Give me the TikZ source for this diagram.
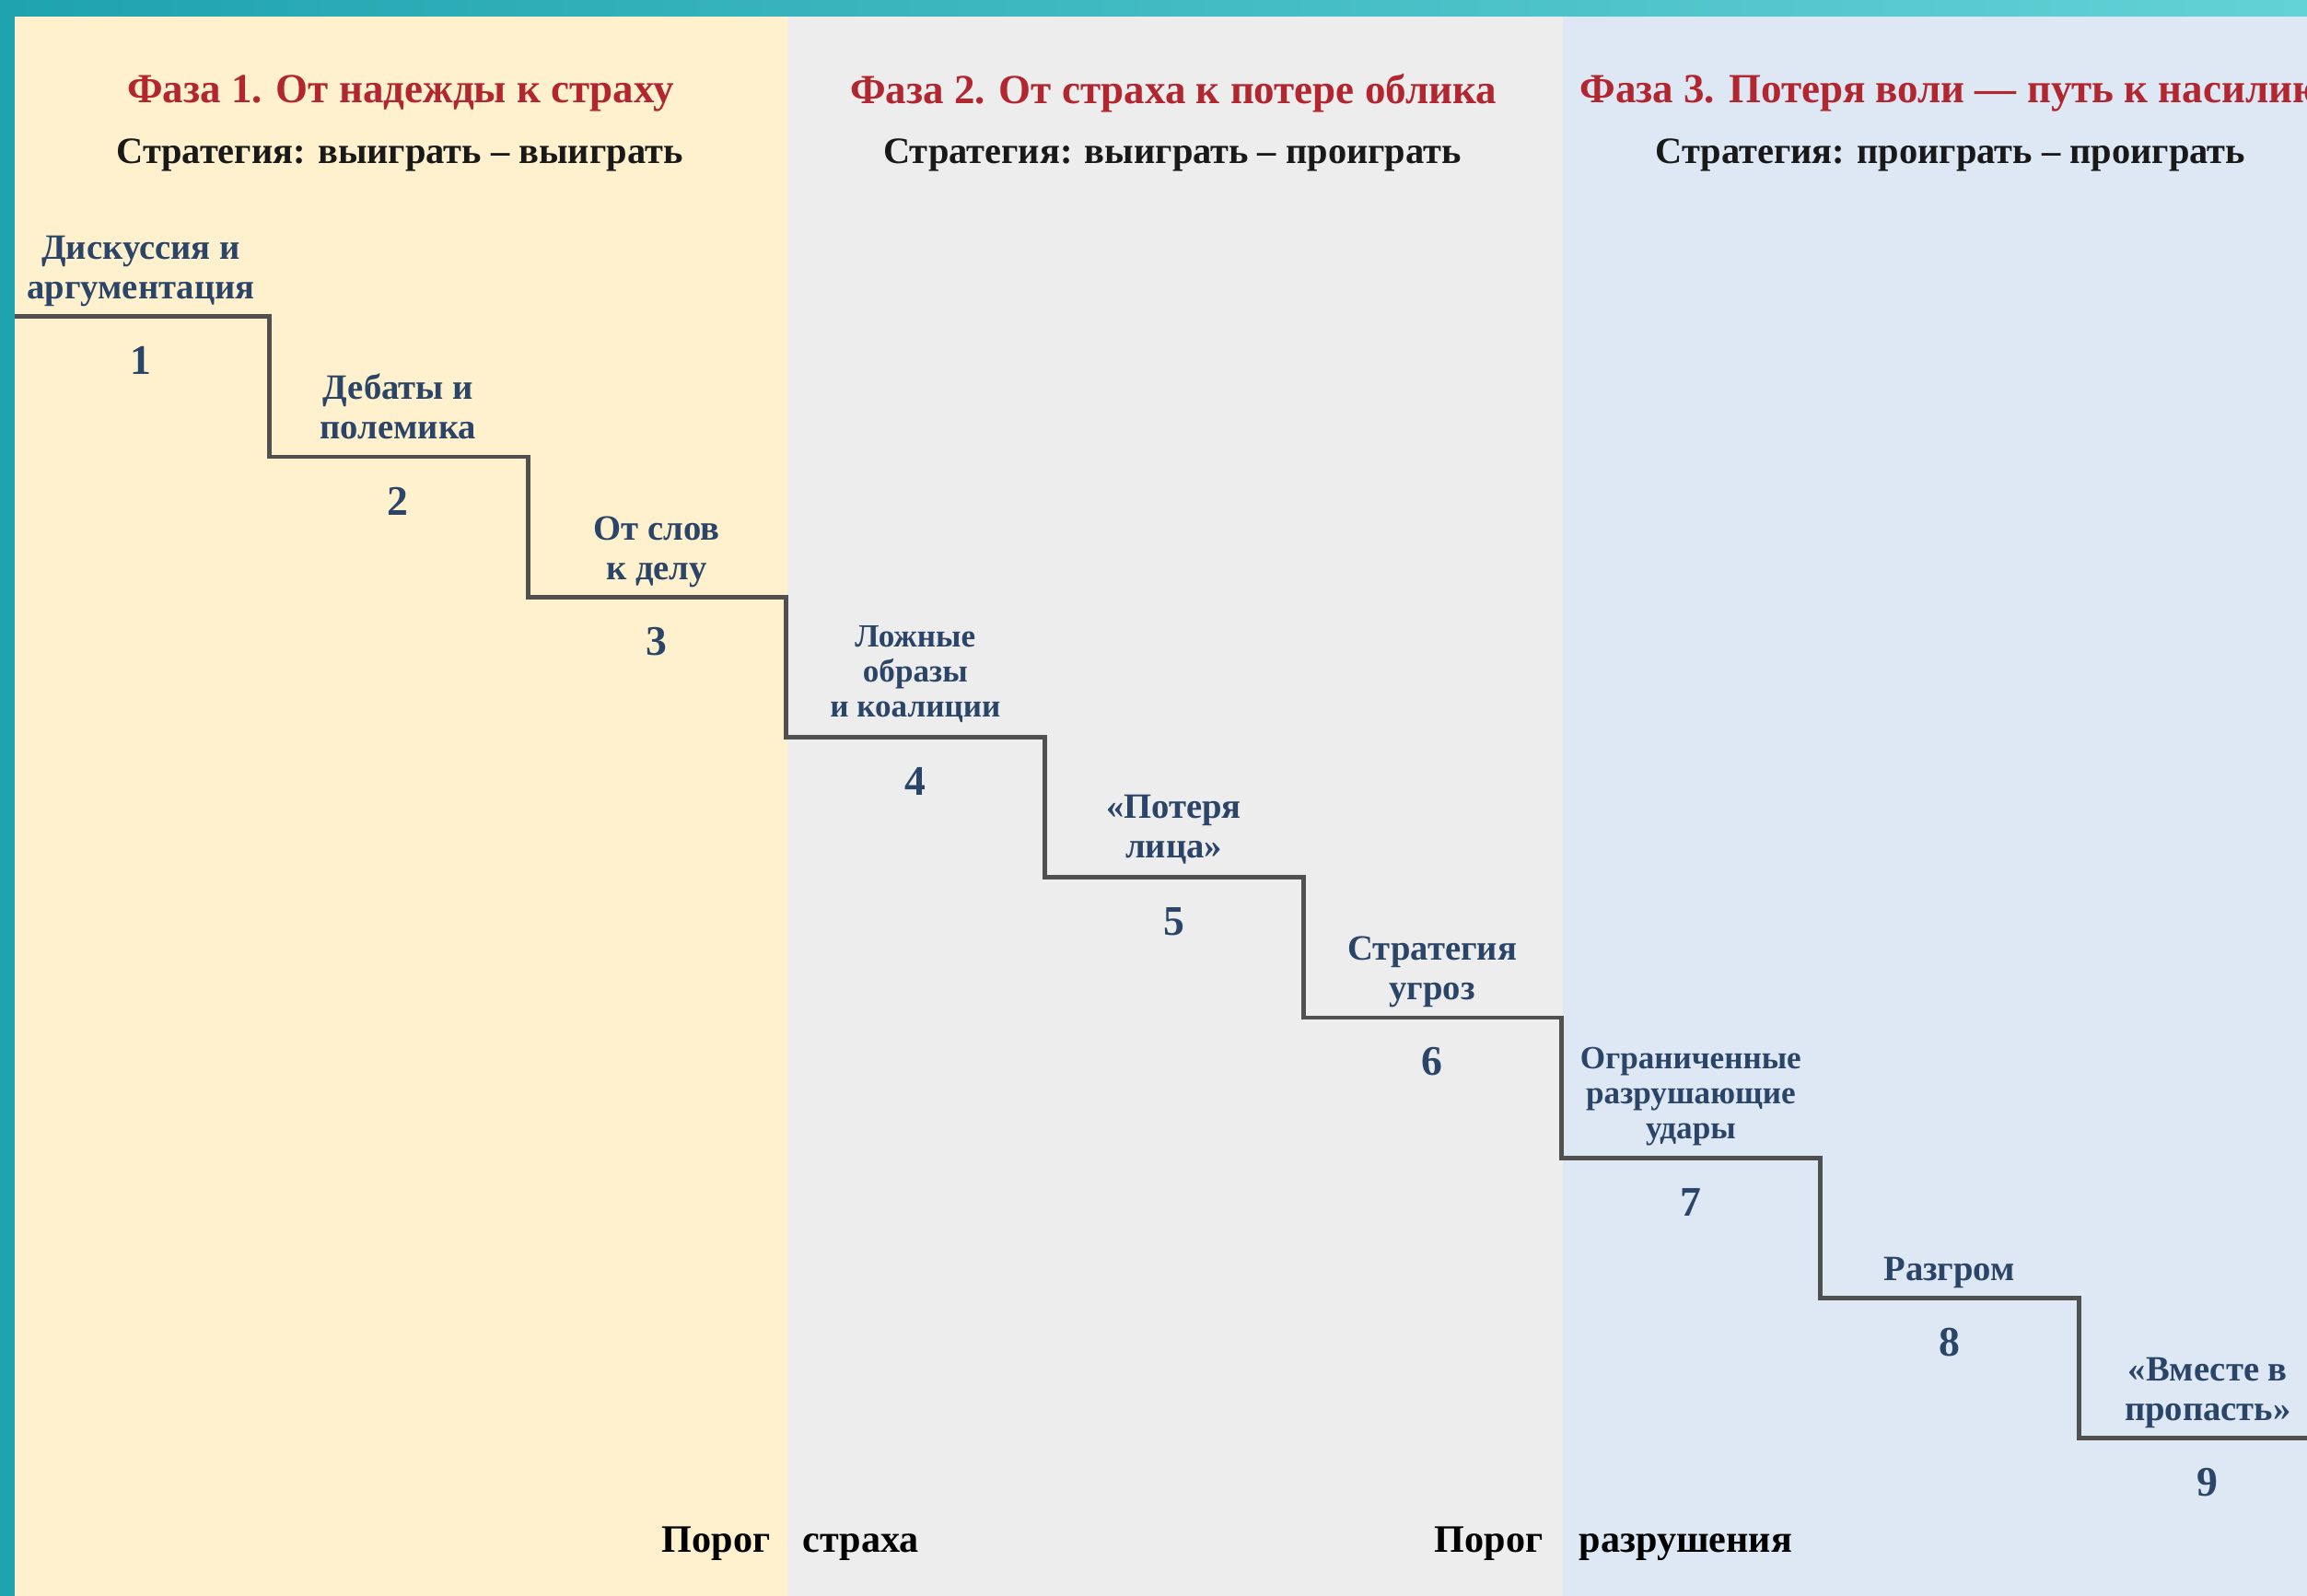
\documentclass[tikz,border=0pt]{standalone}
\usepackage{fontspec}
\setmainfont{Liberation Serif}
\usetikzlibrary{calc}
\usetikzlibrary{positioning}
\definecolor{seateal}{HTML}{1FA3AE}
\definecolor{seateallight}{HTML}{63D2D6}
\definecolor{phaseA}{HTML}{FFF1CE}
\definecolor{phaseB}{HTML}{EDEDED}
\definecolor{phaseC}{HTML}{DDE8F4}
\definecolor{titlered}{HTML}{B1262F}
\definecolor{stepblue}{HTML}{2B4568}
\definecolor{stairgray}{HTML}{505050}
\tikzstyle{phasetitle} = [text=titlered, font=\bfseries\fontsize{12.8}{15}\selectfont]
\tikzstyle{strategy} = [text=black!90, font=\bfseries\fontsize{11.5}{14}\selectfont]
\tikzstyle{steplabel} = [text=stepblue, anchor=south, align=center, inner sep=1pt, text depth=0.25em, font=\bfseries\fontsize{11}{12.3}\selectfont]
\tikzstyle{smalllabel} = [steplabel, font=\bfseries\fontsize{10}{10.8}\selectfont]
\tikzstyle{stepnum} = [text=stepblue, font=\bfseries\fontsize{13}{15}\selectfont]
\tikzstyle{threshold} = [text=black, inner sep=0pt, font=\bfseries\fontsize{12}{14}\selectfont]
\tikzstyle{stairline} = [draw=stairgray, line width=1.4pt]

\begin{document}
\begin{tikzpicture}
    \clip (0,0) rectangle (25.05,-17.33);
    % water backdrop and the three phase panels
    \fill[left color=seateal, right color=seateallight] (0,0) rectangle (25.05,-17.33);
    \fill[phaseA] (0.16,-0.18) rectangle (8.55,-17.33);
    \fill[phaseB] (8.55,-0.18) rectangle (16.97,-17.33);
    \fill[phaseC] (16.97,-0.18) rectangle (25.05,-17.33);

    \node[phasetitle] (ph1_title) at (4.35,-1.01) {Фаза 1. От надежды к страху};
    \node[strategy] (ph1_strat) at (4.34,-1.68) {Стратегия: выиграть – выиграть};
    \node[phasetitle] (ph2_title) at (12.74,-1.01) {Фаза 2. От страха к потере облика};
    \node[strategy] (ph2_strat) at (12.73,-1.68) {Стратегия: выиграть – проиграть};
    \node[phasetitle, anchor=west] (ph3_title) at (17.03,-1.01) {Фаза 3. Потеря воли — путь к насилию};
    \node[strategy] (ph3_strat) at (21.18,-1.68) {Стратегия: проиграть – проиграть};

    % corners of the staircase
    \coordinate (st1) at (0.16,-3.435);
    \coordinate (st2) at (2.924,-4.96);
    \coordinate (st3) at ($(st2)+(2.807,-1.5225)$);
    \coordinate (st4) at ($(st3)+(2.807,-1.5225)$);
    \coordinate (st5) at ($(st4)+(2.807,-1.5225)$);
    \coordinate (st6) at ($(st5)+(2.807,-1.5225)$);
    \coordinate (st7) at ($(st6)+(2.807,-1.5225)$);
    \coordinate (st8) at ($(st7)+(2.807,-1.5225)$);
    \coordinate (st9) at ($(st8)+(2.807,-1.5225)$);
    \coordinate (st_end) at ($(st9)+(2.90,0)$);
    \draw[stairline] (st1) -| (st2) -| (st3) -| (st4) -| (st5) -| (st6) -| (st7) -| (st8) -| (st9) -- (st_end);

    \node[steplabel] (st1_label) at ($(st1)+(1.37,0.06)$) {Дискуссия и\\аргументация};
    \node[stepnum] (st1_num) at ($(st1)+(1.37,-0.48)$) {1};
    \node[steplabel] (st2_label) at ($(st2)+(1.40,0.06)$) {Дебаты и\\полемика};
    \node[stepnum] (st2_num) at ($(st2)+(1.40,-0.48)$) {2};
    \node[steplabel] (st3_label) at ($(st3)+(1.40,0.06)$) {От слов\\к делу};
    \node[stepnum] (st3_num) at ($(st3)+(1.40,-0.48)$) {3};
    \node[smalllabel] (st4_label) at ($(st4)+(1.40,0.09)$) {Ложные\\образы\\и коалиции};
    \node[stepnum] (st4_num) at ($(st4)+(1.40,-0.48)$) {4};
    \node[steplabel] (st5_label) at ($(st5)+(1.40,0.08)$) {«Потеря\\лица»};
    \node[stepnum] (st5_num) at ($(st5)+(1.40,-0.48)$) {5};
    \node[steplabel] (st6_label) at ($(st6)+(1.40,0.06)$) {Стратегия\\угроз};
    \node[stepnum] (st6_num) at ($(st6)+(1.40,-0.48)$) {6};
    \node[smalllabel] (st7_label) at ($(st7)+(1.40,0.08)$) {Ограниченные\\разрушающие\\удары};
    \node[stepnum] (st7_num) at ($(st7)+(1.40,-0.48)$) {7};
    \node[steplabel] (st8_label) at ($(st8)+(1.40,0.06)$) {Разгром};
    \node[stepnum] (st8_num) at ($(st8)+(1.40,-0.48)$) {8};
    \node[steplabel] (st9_label) at ($(st9)+(1.40,0.06)$) {«Вместе в\\пропасть»};
    \node[stepnum] (st9_num) at ($(st9)+(1.40,-0.48)$) {9};

    \node[threshold, anchor=base east] (fear_a) at (8.37,-16.85) {Порог};
    \node[threshold, anchor=base west] (fear_b) at (8.71,-16.85) {страха};
    \node[threshold, anchor=base east] (ruin_a) at (16.76,-16.85) {Порог};
    \node[threshold, anchor=base west] (ruin_b) at (17.14,-16.85) {разрушения};
\end{tikzpicture}
\end{document}
